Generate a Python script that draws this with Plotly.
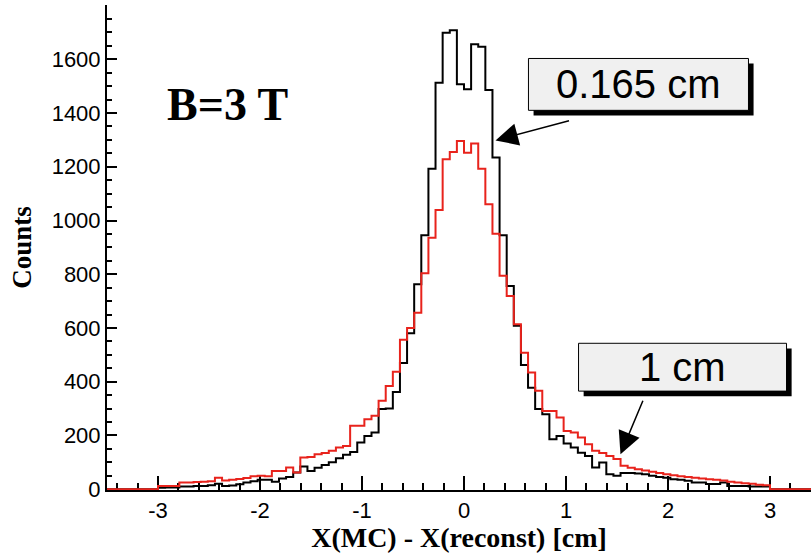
import numpy as np
import plotly.graph_objects as go

# Residual distributions, 86 bins on [-3, 3] cm
bin_lo, bin_hi, n_bins = -3.0, 3.0, 86

counts_fine = [  # 0.165 cm pad width (black)
    5, 6, 6, 10, 10, 12, 12, 15, 20, 12,
    14, 18, 25, 30, 35, 35, 28, 40, 45, 62,
    84, 68, 80, 90, 100, 115, 128, 138, 174, 198,
    211, 298, 300, 362, 470, 580, 763, 945, 1193, 1513,
    1699, 1708, 1507, 1488, 1656, 1647, 1486, 1234, 945, 756,
    608, 462, 378, 298, 279, 186, 198, 170, 155, 136,
    124, 81, 99, 56, 50, 60, 60, 58, 56, 50,
    45, 43, 37, 35, 31, 25, 25, 19, 19, 25,
    12, 12, 12, 10, 10, 10,
]
counts_coarse = [  # 1 cm pad width (red)
    12, 12, 12, 25, 25, 27, 28, 30, 43, 32,
    35, 38, 42, 48, 50, 48, 68, 68, 81, 62,
    118, 120, 130, 135, 143, 155, 161, 236, 236, 260,
    273, 329, 384, 437, 556, 600, 657, 804, 936, 1039,
    1228, 1255, 1296, 1252, 1287, 1193, 1060, 951, 794, 719,
    614, 508, 434, 366, 291, 291, 267, 217, 211, 192,
    167, 143, 135, 124, 112, 87, 80, 74, 70, 65,
    60, 56, 52, 48, 45, 43, 40, 37, 35, 32,
    28, 25, 22, 20, 17, 15,
]

x_ticks = [-3, -2, -1, 0, 1, 2, 3]
x_tick_text = ["-3", "-2", "-1", "0", "1", "2", "3"]
y_ticks = [0, 200, 400, 600, 800, 1000, 1200, 1400, 1600]

x_range = [-3.5, 3.402]
y_range = [-3, 1802]

edges = np.linspace(bin_lo, bin_hi, n_bins + 1)


def step_outline(values):
    """Histogram outline as an 'hv' step path, flat at zero outside the binned range."""
    xs = [x_range[0]] + list(edges[:-1]) + [bin_hi, x_range[1]]
    ys = [0] + list(values) + [0, 0]
    return xs, ys


fig = go.Figure()
for vals, color in [(counts_fine, "black"), (counts_coarse, "#e8231c")]:
    xs, ys = step_outline(vals)
    fig.add_trace(go.Scatter(x=xs, y=ys, mode="lines", line=dict(color=color, width=2, shape="hv"),
                             showlegend=False, hoverinfo="skip"))

# Labelled boxes with drop shadows
boxes = [
    dict(x0=0.632, x1=2.789, y0=1410, y1=1603, text="0.165 cm",
         tip=(0.309, 1298), tail=(1.044, 1373)),
    dict(x0=1.123, x1=3.162, y0=365, y1=543, text="1 cm",
         tip=(1.534, 130), tail=(1.76, 335)),
]
sdx, sdy = 0.05, 19
shapes, annotations = [], []
for b in boxes:
    shapes.append(dict(type="rect", xref="x", yref="y", x0=b["x0"] + sdx, x1=b["x1"] + sdx,
                       y0=b["y0"] - sdy, y1=b["y1"] - sdy, fillcolor="black", line=dict(width=0)))
    shapes.append(dict(type="rect", xref="x", yref="y", x0=b["x0"], x1=b["x1"], y0=b["y0"], y1=b["y1"],
                       fillcolor="#f0f0f0", line=dict(color="black", width=1)))
    annotations.append(dict(x=(b["x0"] + b["x1"]) / 2, y=(b["y0"] + b["y1"]) / 2, xref="x", yref="y",
                            text=b["text"], showarrow=False,
                            font=dict(family="Liberation Sans, Arial", size=40, color="black")))
    annotations.append(dict(x=b["tip"][0], y=b["tip"][1], ax=b["tail"][0], ay=b["tail"][1],
                            xref="x", yref="y", axref="x", ayref="y", text="", showarrow=True,
                            arrowhead=2, arrowsize=3, arrowwidth=1.5, arrowcolor="black"))

annotations.append(dict(x=-2.32, y=1432, xref="x", yref="y", text="<b>B=3 T</b>", showarrow=False,
                        font=dict(family="Liberation Serif, Times New Roman", size=46, color="black")))

axis_font = dict(family="Liberation Sans, Arial", size=22, color="black")

fig.update_layout(
    width=811, height=553,
    margin=dict(l=107, r=0, t=5, b=63),
    paper_bgcolor="white", plot_bgcolor="white",
    shapes=shapes, annotations=annotations,
    xaxis=dict(range=x_range, tickvals=x_ticks, ticktext=x_tick_text, ticks="inside", ticklen=14,
               tickwidth=1.5, tickcolor="black", showline=True, linecolor="black", linewidth=2,
               showgrid=False, zeroline=False, layer="below traces", tickfont=axis_font,
               minor=dict(dtick=0.2, tick0=0, ticks="inside", ticklen=7, tickwidth=1.5, tickcolor="black"),
               title=dict(text="<b>X(MC) - X(reconst) [cm]</b>", standoff=4,
                          font=dict(family="Liberation Serif, Times New Roman", size=28, color="black"))),
    yaxis=dict(range=y_range, tickvals=y_ticks, ticks="inside", ticklen=10, tickwidth=1.5,
               tickcolor="black", showline=True, linecolor="black", linewidth=2,
               showgrid=False, zeroline=False, layer="below traces", tickfont=axis_font,
               minor=dict(dtick=50, tick0=0, ticks="inside", ticklen=5, tickwidth=1.5, tickcolor="black"),
               title=dict(text="<b>Counts</b>", standoff=12,
                          font=dict(family="Liberation Serif, Times New Roman", size=27, color="black"))),
)

fig.write_html("out.html")
